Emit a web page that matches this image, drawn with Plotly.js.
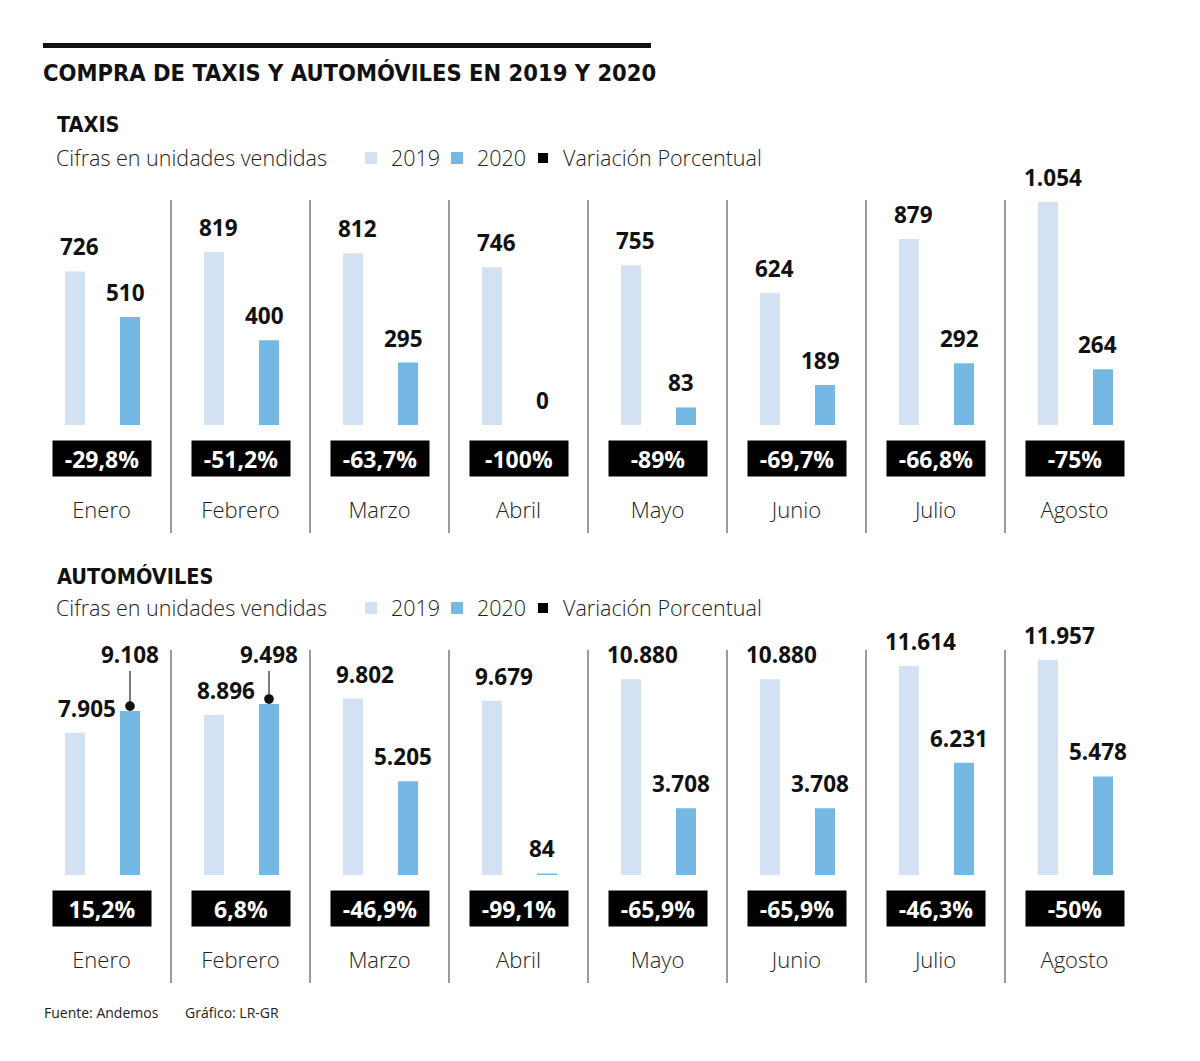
<!DOCTYPE html>
<html><head><meta charset="utf-8">
<script src="https://cdn.plot.ly/plotly-3.0.1.min.js"></script>
<style>html,body{margin:0;padding:0;background:#fff}</style>
</head><body><div id="chart" style="width:1200px;height:1061px"></div>
<script>
// ---- data ----
const months = ['Enero','Febrero','Marzo','Abril','Mayo','Junio','Julio','Agosto'];
const taxis2019 = [726, 819, 812, 746, 755, 624, 879, 1054];
const taxis2020 = [510, 400, 295, 0, 83, 189, 292, 264];
const taxisVar = ['-29,8%','-51,2%','-63,7%','-100%','-89%','-69,7%','-66,8%','-75%'];
const autos2019 = [7905, 8896, 9802, 9679, 10880, 10880, 11614, 11957];
const autos2020 = [9108, 9498, 5205, 84, 3708, 3708, 6231, 5478];
const autosVar = ['15,2%','6,8%','-46,9%','-99,1%','-65,9%','-65,9%','-46,3%','-50%'];

// ---- layout helpers ----
const W = 1200, H = 1061;
const px = p => p / W;
const py = p => 1 - p / H;
const C19 = '#d4e1f2', C20 = '#75b8e4';
const LIGHT = '"Open Sans", "Noto Sans", sans-serif';
const BOLD = '"Open Sans", "Noto Sans", sans-serif';
const COND = '"Liberation Sans Narrow", "DejaVu Sans Condensed", sans-serif';
const idx = months.map((_, i) => i);
const fmt = v => String(v).replace(/\B(?=(\d{3})+(?!\d))/g, '.');
const OFF19 = -0.263, OFF20 = 0.133, BW = 0.144;
const YMAX_T = 225 / 0.2116, YMAX_A = 225 / 0.0180;

const traces = [];
const annotations = [];
const shapes = [];
const valFont = {family: BOLD, size: 22.5, weight: 700, color:'#111'};

function panel(v19, v20, varTxt, xa, ya, leg, topPx, bottomPx, yMax, labelX) {
  const xr = xa;
  traces.push({type:'bar', x: idx, y: v19, offset: OFF19, width: BW, marker:{color:C19},
    name:'2019', xaxis: xa, yaxis: ya, legend: leg, hoverinfo:'skip'});
  traces.push({type:'bar', x: idx, y: v20, offset: OFF20, width: BW, marker:{color:C20},
    name:'2020', xaxis: xa, yaxis: ya, legend: leg, hoverinfo:'skip'});
  traces.push({type:'scatter', mode:'markers', x:[null], y:[null], name:'Variación Porcentual',
    legendwidth: 230,
    marker:{symbol:'square', color:'#000', size:10}, xaxis: xa, yaxis: ya, legend: leg, hoverinfo:'skip'});
  idx.forEach(i => {
    annotations.push({xref: xr, yref: ya, x: i + OFF19 + BW/2, y: v19[i], text: fmt(v19[i]),
      showarrow:false, yanchor:'bottom', yshift: 7, xshift: labelX, font: valFont});
    if (v20[i] > v19[i]) {
      annotations.push({xref: xr, yref: ya, x: i + OFF20 + BW/2, y: v20[i], text: fmt(v20[i]),
        showarrow:true, axref:'pixel', ax: 0, ayref: ya, ay: yMax * 0.982,
        arrowhead: 6, arrowsize: 2.2, arrowwidth: 1.1, standoff: 5,
        arrowcolor:'#111', font: valFont});
    } else {
      annotations.push({xref: xr, yref: ya, x: i + OFF20 + BW/2, y: v20[i], text: fmt(v20[i]),
        showarrow:false, yanchor:'bottom', yshift: 7, xshift: -5, font: valFont});
    }
    annotations.push({xref: xr, yref: ya, x: i, y: 0, yshift: -33.5, text: varTxt[i],
      showarrow:false, bgcolor:'#000', width: 98, height: 35, borderpad: 0, valign:'middle',
      yanchor:'middle', font:{family: BOLD, size: 23, weight: 700, color:'#fff'}});
  });
  for (let i = 0; i < months.length - 1; i++) {
    shapes.push({type:'line', xref: xr, yref:'paper', x0: i + 0.5, x1: i + 0.5,
      y0: py(bottomPx), y1: py(topPx), line:{color:'#7a7a7a', width:1.5}});
  }
}

panel(taxis2019, taxis2020, taxisVar, 'x', 'y', 'legend', 200, 533, YMAX_T, 5);
panel(autos2019, autos2020, autosVar, 'x2', 'y2', 'legend2', 650, 983, YMAX_A, 12);

const headings = [
  {text:'TAXIS', x:55, y:124, font:{family: COND, size: 21.5, weight: 700, color:'#111'}},
  {text:'Cifras en unidades vendidas', x:54, y:157, font:{family: LIGHT, size: 21.5, weight: 300, color:'#222'}},
  {text:'AUTOMÓVILES', x:55, y:576, font:{family: COND, size: 21.5, weight: 700, color:'#111'}},
  {text:'Cifras en unidades vendidas', x:54, y:607, font:{family: LIGHT, size: 21.5, weight: 300, color:'#222'}},
  {text:'Fuente: Andemos', x:42, y:1012, font:{family: LIGHT, size: 14, color:'#222'}},
  {text:'Gráfico: LR-GR', x:183, y:1012, font:{family: LIGHT, size: 14, color:'#222'}}
];
headings.forEach(h => annotations.push({xref:'paper', yref:'paper', x: px(h.x), y: py(h.y),
  xanchor:'left', yanchor:'middle', showarrow:false, text: h.text, font: h.font}));

shapes.push({type:'line', xref:'paper', yref:'paper', x0: px(43), x1: px(651), y0: py(45.5), y1: py(45.5),
  line:{color:'#111', width:5}});

const xaxisBase = {domain:[px(32), px(1144)], range:[-0.5, 7.5], showgrid:false, zeroline:false,
  showline:false, ticks:'', tickvals: idx, ticktext: months, ticklabelstandoff: 70,
  tickfont:{family: LIGHT, size: 22, weight: 300, color:'#222'}, fixedrange:true};
const legBase = {orientation:'h', xanchor:'left', yanchor:'middle', bgcolor:'rgba(0,0,0,0)',
  entrywidth: 41, entrywidthmode:'pixels',
  font:{family: LIGHT, size: 21.5, weight: 300, color:'#222'}, traceorder:'normal', itemclick:false, itemdoubleclick:false};

const layout = {
  width: W, height: H, margin:{l:0, r:0, t:0, b:0},
  paper_bgcolor:'#fff', plot_bgcolor:'#fff', barmode:'overlay', showlegend:true,
  title:{text:'COMPRA DE TAXIS Y AUTOMÓVILES EN 2019 Y 2020', x: px(43), xanchor:'left', xref:'paper',
    y: py(73), yref:'container', yanchor:'middle', font:{family: COND, size: 23.5, weight: 700, color:'#111'}},
  xaxis: Object.assign({}, xaxisBase, {anchor:'y'}),
  yaxis: {domain:[py(425), py(200)], range:[0, YMAX_T], visible:false, fixedrange:true},
  xaxis2: Object.assign({}, xaxisBase, {anchor:'y2'}),
  yaxis2: {domain:[py(875), py(650)], range:[0, YMAX_A], visible:false, fixedrange:true},
  legend: Object.assign({}, legBase, {x: px(351), y: py(158)}),
  legend2: Object.assign({}, legBase, {x: px(351), y: py(608)}),
  annotations, shapes
};

Plotly.newPlot('chart', traces, layout, {displayModeBar:false, staticPlot:true});
</script></body></html>
